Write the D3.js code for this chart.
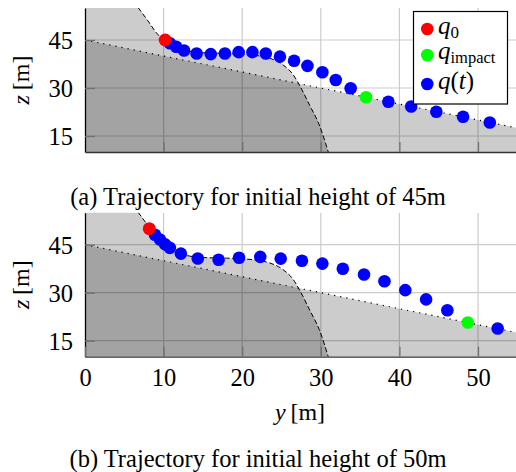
<!DOCTYPE html>
<html>
<head>
<meta charset="utf-8">
<script src="https://cdn.jsdelivr.net/npm/d3@7"></script>
<style>
  body { margin: 0; background: #fff; }
  svg { display: block; }
</style>
</head>
<body>
<svg id="chart" width="516" height="472"></svg>
<script>
// terrain: straight ground line (dotted) and the slide body outline (dashed)
const groundY = [0, 55]
const groundZ = [45, 17.5]
const slopeY = [0, 6.2, 6.8, 8.0, 9.1, 10.2, 11.5, 13, 15, 18, 20, 22, 23.5, 25.2, 26.5, 27.35, 28.6, 29.8, 30.95]
const slopeZ = [60, 57, 55, 51, 47.2, 44.6, 42.9, 41.6, 41.0, 40.8, 40.6, 40.1, 39.3, 37.2, 34.1, 30.6, 24.5, 18.5, 10]

// run (a): initial height 45m
const startA = [10.2, 45.0]
const impactA = [35.75, 27.1]
const trajAY = [10.8, 11.6, 12.6, 14.2, 16.0, 17.8, 19.55, 21.3, 23.0, 24.8, 26.6, 28.3, 30.2, 31.9, 33.8, 38.6, 41.5, 44.7, 48.1, 51.5]
const trajAZ = [44.0, 42.9, 41.7, 40.8, 40.6, 40.8, 41.2, 41.2, 40.8, 39.8, 38.5, 36.9, 34.9, 32.5, 29.9, 25.7, 24.2, 22.6, 21.0, 19.2]

// run (b): initial height 50m
const startB = [8.18, 50.0]
const impactB = [48.7, 20.7]
const trajBY = [8.9, 9.55, 10.2, 10.8, 12.2, 14.35, 17.0, 19.6, 22.3, 24.9, 27.6, 30.2, 32.8, 35.5, 38.1, 40.75, 43.4, 46.1, 52.5]
const trajBZ = [48.1, 46.6, 45.1, 44.0, 42.2, 40.7, 40.3, 40.9, 41.2, 40.65, 40.0, 39.1, 37.5, 35.7, 33.6, 30.8, 27.9, 24.5, 18.8]

const yTicks = [0, 10, 20, 30, 40, 50]
const zTicks = [15, 30, 45]
const captions = ['(a) Trajectory for initial height of 45m', '(b) Trajectory for initial height of 50m']

const FONT = "'Liberation Serif', 'Times New Roman', serif"
const svg = d3.select('#chart')
const left = 85
const right = 516
const x = d3.scaleLinear().domain([0, 55]).range([left, 517.3])

const zip = (a, b) => a.map((d, i) => [d, b[i]])

const label = (sel, px, py, size) => sel.append('text')
    .attr('x', px).attr('y', py)
    .attr('font-family', FONT).attr('font-size', size)

const drawPanel = (p) => {
    const z = d3.scaleLinear().domain([10, 55]).range([p.bottom, p.top])
    const g = svg.append('g')

    g.append('clipPath').attr('id', 'clip-' + p.id)
        .append('rect')
        .attr('x', left).attr('y', p.top)
        .attr('width', right - left).attr('height', p.bottom - p.top)

    const inner = g.append('g').attr('clip-path', `url(#clip-${p.id})`)

    // grid
    inner.selectAll('line.gx')
        .data(yTicks.filter(d => d > 0))
        .join('line')
        .attr('x1', d => x(d)).attr('x2', d => x(d))
        .attr('y1', p.top).attr('y2', p.bottom)
        .attr('stroke', '#cccccc').attr('stroke-width', 1.2)
    inner.selectAll('line.gz')
        .data(zTicks)
        .join('line')
        .attr('x1', left).attr('x2', right)
        .attr('y1', d => z(d)).attr('y2', d => z(d))
        .attr('stroke', '#cccccc').attr('stroke-width', 1.2)

    // fills (overlap gives the darker grey)
    const ground = zip(groundY, groundZ)
    const slope = zip(slopeY, slopeZ)
    inner.append('path')
        .datum(ground)
        .attr('d', d3.area().x(d => x(d[0])).y0(z(10)).y1(d => z(d[1])))
        .attr('fill', '#000').attr('fill-opacity', 0.2)
    inner.append('path')
        .datum(slope)
        .attr('d', d3.area().curve(d3.curveMonotoneX).x(d => x(d[0])).y0(z(10)).y1(d => z(d[1])))
        .attr('fill', '#000').attr('fill-opacity', 0.2)

    inner.append('path')
        .datum(ground)
        .attr('d', d3.line().x(d => x(d[0])).y(d => z(d[1])))
        .attr('fill', 'none').attr('stroke', '#000')
        .attr('stroke-width', 1.2).attr('stroke-dasharray', '1.2 5')
    inner.append('path')
        .datum(slope.slice(1))
        .attr('d', d3.line().curve(d3.curveMonotoneX).x(d => x(d[0])).y(d => z(d[1])))
        .attr('fill', 'none').attr('stroke', '#000')
        .attr('stroke-width', 1).attr('stroke-dasharray', '5 2.5')

    // trajectory
    inner.selectAll('circle.traj')
        .data(zip(p.ty, p.tz))
        .join('circle')
        .attr('cx', d => x(d[0])).attr('cy', d => z(d[1]))
        .attr('r', 6.3).attr('fill', '#0000ff')
    inner.append('circle')
        .attr('cx', x(p.impact[0])).attr('cy', z(p.impact[1]))
        .attr('r', 6.3).attr('fill', '#00ff00')
    inner.append('circle')
        .attr('cx', x(p.start[0])).attr('cy', z(p.start[1]))
        .attr('r', 6.5).attr('fill', '#ff0000')

    // axes
    const ax = g.append('g')
        .attr('transform', `translate(${left},0)`)
        .call(d3.axisLeft(z).tickValues(zTicks).tickSizeInner(-10).tickSizeOuter(0).tickPadding(12))
    const bx = g.append('g')
        .attr('transform', `translate(0,${p.bottom})`)
        .call(d3.axisBottom(x).tickValues(p.labels ? yTicks : yTicks.slice(1))
            .tickSizeInner(-10).tickSizeOuter(0).tickPadding(12)
            .tickFormat(p.labels ? d3.format('d') : () => ''))
    ;[ax, bx].forEach(a => {
        a.attr('font-family', FONT).attr('font-size', 24.5)
        a.select('.domain').attr('stroke', '#000').attr('stroke-width', 1.3)
        a.selectAll('.tick line').attr('stroke', '#707070').attr('stroke-width', 1.3)
        a.selectAll('.tick text').attr('fill', '#000')
    })
    bx.select('.domain').attr('stroke', '#333')
    ax.selectAll('.tick text').attr('dy', '0.34em')

    // z label
    const zl = g.append('text')
        .attr('transform', `translate(29,${(p.top + p.bottom) / 2}) rotate(-90)`)
        .attr('text-anchor', 'middle')
        .attr('font-family', FONT).attr('font-size', 24)
    zl.append('tspan').attr('font-style', 'italic').text('z')
    zl.append('tspan').text('\u2009[m]')

    label(svg, 258, p.caption, 24.5)
        .attr('text-anchor', 'middle')
        .text(captions[p.id])
}

drawPanel({ id: 0, top: 8, bottom: 152, start: startA, impact: impactA, ty: trajAY, tz: trajAZ, labels: false, caption: 205 })
drawPanel({ id: 1, top: 212.7, bottom: 356.7, start: startB, impact: impactB, ty: trajBY, tz: trajBZ, labels: true, caption: 466.5 })

// y label
const yl = label(svg, 300, 420, 24).attr('text-anchor', 'middle')
yl.append('tspan').attr('font-style', 'italic').text('y')
yl.append('tspan').text('\u2009[m]')

// legend
const legend = svg.append('g')
legend.append('rect')
    .attr('x', 413.5).attr('y', 11.5).attr('width', 94).attr('height', 92.5)
    .attr('fill', '#fff').attr('stroke', '#000').attr('stroke-width', 1.2)
const entries = [
    { color: '#ff0000', cy: 29, base: 34 },
    { color: '#00ff00', cy: 55, base: 59 },
    { color: '#0000ff', cy: 84, base: 89 }
]
legend.selectAll('circle')
    .data(entries)
    .join('circle')
    .attr('cx', 427.3).attr('cy', d => d.cy).attr('r', 6.3)
    .attr('fill', d => d.color)

const t0 = label(legend, 438, entries[0].base, 25)
t0.append('tspan').attr('font-style', 'italic').text('q')
t0.append('tspan').attr('dy', 4).attr('font-size', 17).text('0')

const t1 = label(legend, 438, entries[1].base, 25)
t1.append('tspan').attr('font-style', 'italic').text('q')
t1.append('tspan').attr('dy', 4).attr('font-size', 16.5).text('impact')

const t2 = label(legend, 438, entries[2].base, 25)
t2.append('tspan').attr('font-style', 'italic').text('q')
t2.append('tspan').text('(')
t2.append('tspan').attr('font-style', 'italic').text('t')
t2.append('tspan').text(')')
</script>
</body>
</html>
